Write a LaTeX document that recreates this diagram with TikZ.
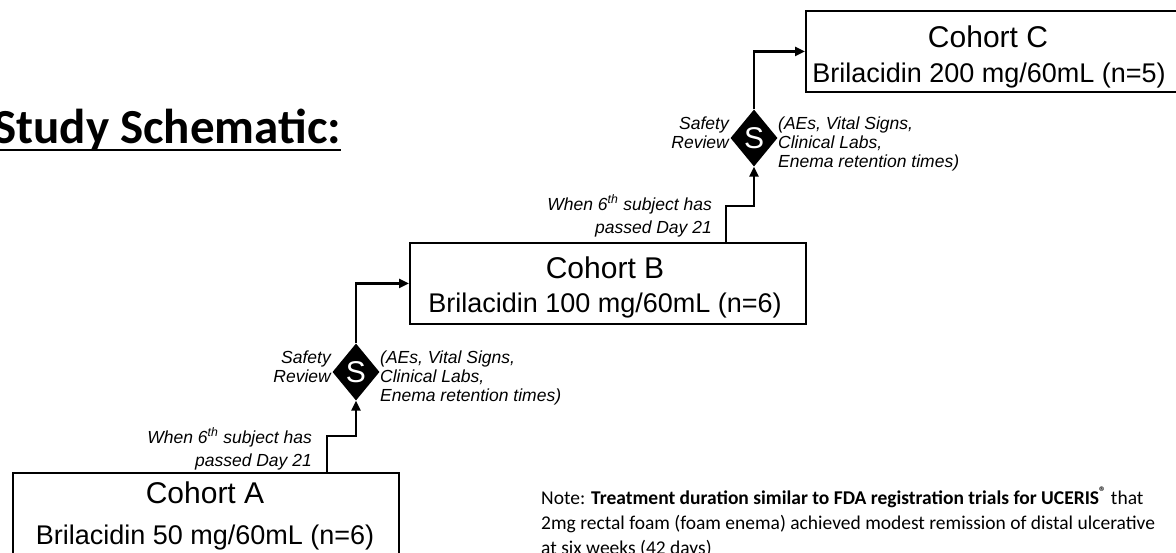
\documentclass[tikz,border=0pt]{standalone}
\usepackage{fontspec}
\setmainfont{Liberation Sans}
\newfontfamily\calib{Carlito}
\usetikzlibrary{shapes.geometric,arrows.meta}
\begin{document}
\begin{tikzpicture}[x=1pt,y=-1pt,
  cbox/.style={draw, line width=1.8pt, inner sep=0pt, anchor=north west, minimum height=81pt},
  dia/.style={diamond, fill=black, inner sep=0pt, minimum width=47pt, minimum height=57pt},
  stxt/.style={text=white, font=\fontsize{30}{36}\selectfont, inner sep=0pt},
  ctitle/.style={font=\fontsize{30}{36}\selectfont, inner sep=0pt, anchor=base},
  csub/.style={font=\fontsize{27}{33}\selectfont, inner sep=0pt, anchor=base},
  labr/.style={font=\itshape\fontsize{17.5}{21}\selectfont, inner sep=0pt, anchor=base east},
  labl/.style={font=\itshape\fontsize{17.5}{21}\selectfont, inner sep=0pt, anchor=base west},
  conn/.style={line width=2.4pt, -{Triangle[length=10pt,width=9pt]}},
  notetxt/.style={font=\calib\fontsize{19.5}{24}\selectfont, inner sep=0pt, anchor=base west}
]
\useasboundingbox (0,0) rectangle (1176,552);

% title
\node[anchor=base west, inner sep=0pt, font=\calib\bfseries\fontsize{49}{59}\selectfont] (T) at (-7,143) {Study Schematic:};
\draw[line width=2.6pt] ([yshift=-7pt]T.base west) -- ([yshift=-7pt]T.base east);

% boxes
\node[cbox, minimum width=386pt] (A) at (12,472) {};
\node[cbox, minimum width=396pt] (B) at (409,242) {};
\node[cbox, minimum width=375pt] (C) at (805,10) {};

\node[ctitle] (At) at (205,503) {Cohort A};
\node[csub] (As) at (205,544) {Brilacidin 50 mg/60mL (n=6)};
\node[ctitle] (Bt) at (605,278) {Cohort B};
\node[csub] (Bs) at (605,312) {Brilacidin 100 mg/60mL (n=6)};
\node[ctitle] (Ct) at (988,47) {Cohort C};
\node[csub] (Cs) at (989,82) {Brilacidin 200 mg/60mL (n=5)};

% diamonds
\node[dia] (D1) at (356,372) {};
\node[stxt] (S1) at (D1.center) {S};
\node[dia] (D2) at (754,138) {};
\node[stxt] (S2) at (D2.center) {S};

% connectors
\draw[conn] ([xshift=315pt]A.north west) -- ++(0,-36) -| (D1.south);
\draw[conn] (D1.north) |- (B.west);
\draw[conn] ([xshift=317pt]B.north west) -- ++(0,-36) -| (D2.south);
\draw[conn] (D2.north) |- (C.west);

% labels
\node[labr] (W1a) at (312,443) {When 6\textsuperscript{th} subject has};
\node[labr] (W1b) at (312,466) {passed Day 21};
\node[labr] (W2a) at (712,210) {When 6\textsuperscript{th} subject has};
\node[labr] (W2b) at (712,233) {passed Day 21};

\node[labr] (R1a) at (331,363) {Safety};
\node[labr] (R1b) at (331,382) {Review};
\node[labl] (E1a) at (380,363) {(AEs, Vital Signs,};
\node[labl] (E1b) at (380,382) {Clinical Labs,};
\node[labl] (E1c) at (380,401) {Enema retention times)};

\node[labr] (R2a) at (729,129) {Safety};
\node[labr] (R2b) at (729,148) {Review};
\node[labl] (E2a) at (778,129) {(AEs, Vital Signs,};
\node[labl] (E2b) at (778,148) {Clinical Labs,};
\node[labl] (E2c) at (778,167) {Enema retention times)};

% note
\node[notetxt] (N1) at (541,504) {Note: \textbf{Treatment duration similar to FDA registration trials for UCERIS\textsuperscript{®}} that};
\node[notetxt] (N2) at (541,529) {2mg rectal foam (foam enema) achieved modest remission of distal ulcerative};
\node[notetxt] (N3) at (541,554) {at six weeks (42 days)};
\end{tikzpicture}
\end{document}
